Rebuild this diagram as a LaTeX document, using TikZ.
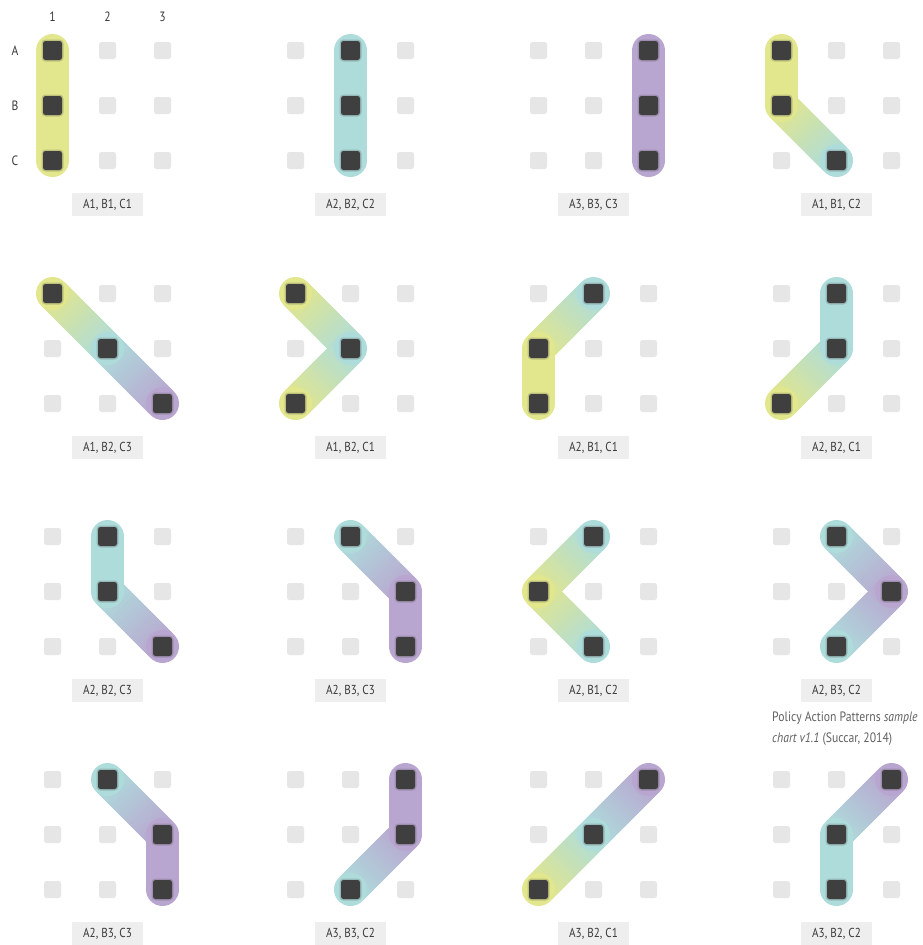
\documentclass[tikz,border=0pt]{standalone}
\usepackage{fontspec}
\setmainfont{PT Sans}[FakeStretch=0.86]
\usetikzlibrary{calc}
\definecolor{col1}{HTML}{E2E68C}
\definecolor{col2}{HTML}{AEDCDB}
\definecolor{col3}{HTML}{B9A6D0}
\definecolor{darkq}{HTML}{3F3F3F}
\definecolor{lightq}{HTML}{E6E6E6}
\definecolor{lblbg}{HTML}{EEEEEE}
\definecolor{lbltext}{HTML}{3A3A3A}
\tikzset{
  lightsq/.style={rectangle,rounded corners=2.5pt,fill=lightq,minimum size=17pt,inner sep=0pt},
  darksq/.style={rectangle,rounded corners=2.5pt,fill=darkq,minimum size=19pt,inner sep=0pt},
  darkhalo/.style={rectangle,rounded corners=4pt,fill=darkq,opacity=0.22,minimum size=22pt,inner sep=0pt},
  lbl/.style={rectangle,fill=lblbg,text=lbltext,minimum width=71pt,minimum height=23pt,inner sep=0pt,font=\fontsize{13}{15}\selectfont},
  hdr/.style={text=lbltext,inner sep=0pt,font=\fontsize{13.5}{15}\selectfont},
  note/.style={text=lbltext!80,inner sep=0pt,align=left,anchor=north west,font=\fontsize{13.6}{21}\selectfont}
}
% strip-shaded segment: #1 from, #2 to, #3 colour index from, #4 colour index to
\newcommand\gradseg[4]{%
  \foreach \s in {0,...,29}{%
    \pgfmathsetmacro\ta{\s/30}%
    \pgfmathsetmacro\tb{min((\s+1.6)/30,1)}%
    \pgfmathtruncatemacro\pct{100-100*(\s+0.5)/30}%
    \fill[col#3!\pct!col#4]
      ($(#1)!\ta!(#2)!16.5pt!90:(#2)$) -- ($(#1)!\tb!(#2)!16.5pt!90:(#2)$)
      -- ($(#1)!\tb!(#2)!16.5pt!-90:(#2)$) -- ($(#1)!\ta!(#2)!16.5pt!-90:(#2)$) -- cycle;}}
\begin{document}
\begin{tikzpicture}[x=1pt,y=-1pt]
\fill[white] (0,0) rectangle (922,945);
\useasboundingbox (0,0) rectangle (922,945);
% headers
\node[hdr] (h1) at (52.5,17) {1};
\node[hdr] (h2) at (107.5,17) {2};
\node[hdr] (h3) at (162.5,17) {3};
\node[hdr] (rA) at (15,50.5) {A};
\node[hdr] (rB) at (15,105.5) {B};
\node[hdr] (rC) at (15,160.5) {C};
\foreach \pr/\pc/\va/\vb/\vc [count=\k] in {
  0/0/1/1/1, 0/1/2/2/2, 0/2/3/3/3, 0/3/1/1/2,
  1/0/1/2/3, 1/1/1/2/1, 1/2/2/1/1, 1/3/2/2/1,
  2/0/2/2/3, 2/1/2/3/3, 2/2/2/1/2, 2/3/2/3/2,
  3/0/2/3/3, 3/1/3/3/2, 3/2/3/2/1, 3/3/3/2/2}{
  \begin{scope}[shift={({52.5+243*\pc},{50.5+243*\pr})}]
    \foreach \i in {0,1,2}{\foreach \j in {0,1,2}{
      \node[lightsq] (L\k-\i-\j) at (55*\i,55*\j) {};}}
    \coordinate (pan\k-A) at ({55*(\va-1)},0);
    \coordinate (pan\k-B) at ({55*(\vb-1)},55);
    \coordinate (pan\k-C) at ({55*(\vc-1)},110);
    \gradseg{pan\k-A}{pan\k-B}{\va}{\vb}
    \gradseg{pan\k-B}{pan\k-C}{\vb}{\vc}
    \fill[col\va] (pan\k-A) circle[radius=16.5pt];
    \fill[col\vb] (pan\k-B) circle[radius=16.5pt];
    \fill[col\vc] (pan\k-C) circle[radius=16.5pt];
    \foreach \p in {A,B,C}{
      \node[darkhalo] (H\k-\p) at (pan\k-\p) {};
      \node[darksq] (S\k-\p) at (pan\k-\p) {};}
    \node[lbl] (lab\k) at (55,154) {A\va, B\vb, C\vc};
  \end{scope}
}
\node[note] (cite) at (772,712) {Policy Action Patterns \textit{sample}\\\textit{chart v1.1} (Succar, 2014)};
\end{tikzpicture}
\end{document}
